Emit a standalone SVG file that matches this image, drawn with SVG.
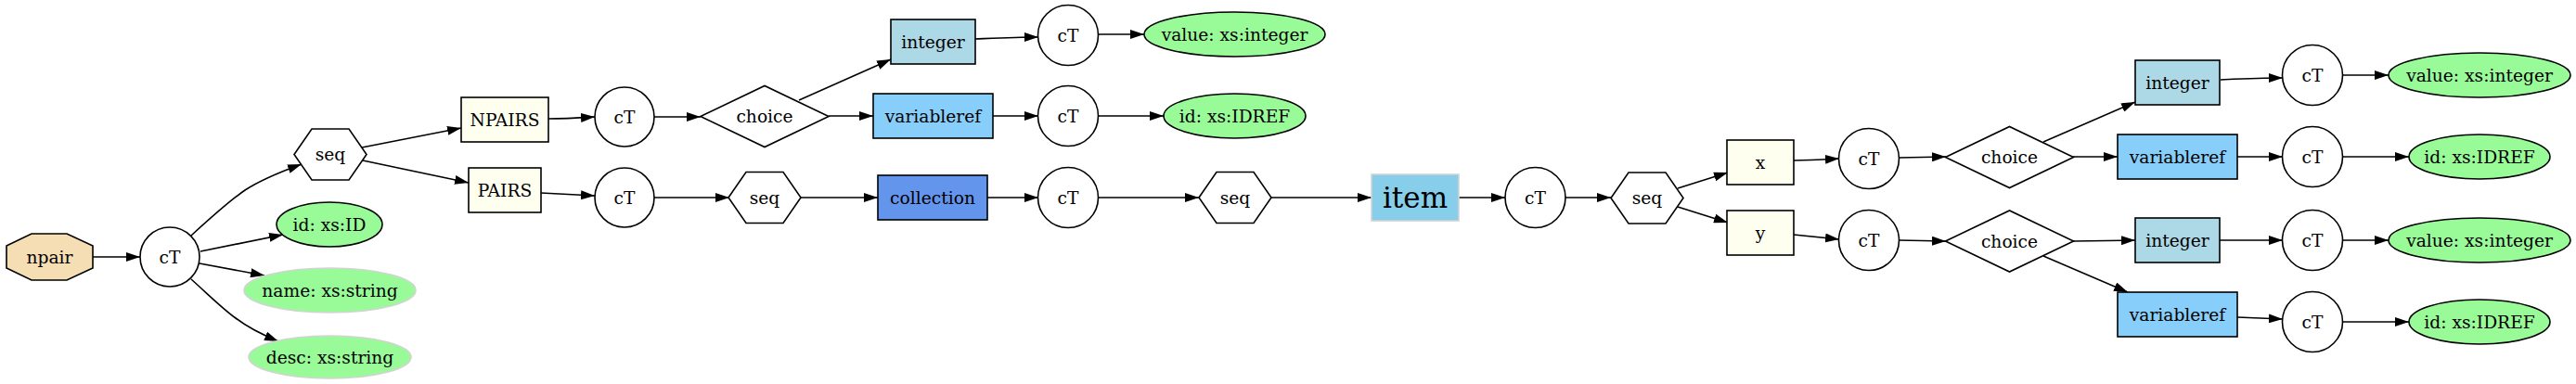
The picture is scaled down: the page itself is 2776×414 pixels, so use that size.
<svg xmlns="http://www.w3.org/2000/svg" width="2776" height="414" viewBox="0 0 2776 414">
<style>
text{font-family:"DejaVu Serif","Liberation Serif",serif;font-size:18.67px;text-anchor:middle;dominant-baseline:central;fill:#000}
.big{font-size:31px}
.ct{fill:#fff;stroke:#000;stroke-width:1.6}
.hex{fill:#fff;stroke:#000;stroke-width:1.6}
.dia{fill:#fff;stroke:#000;stroke-width:1.6}
.ivory{fill:#fffff0;stroke:#000;stroke-width:1.6}
.lb{fill:#add8e6;stroke:#000;stroke-width:1.6}
.lsb{fill:#87cefa;stroke:#000;stroke-width:1.6}
.cfb{fill:#6495ed;stroke:#000;stroke-width:1.6}
.att{fill:#98fb98;stroke:#000;stroke-width:1.6}
.attg{fill:#98fb98;stroke:#d3d3d3;stroke-width:1.6}
.e{fill:none;stroke:#000;stroke-width:1.6;marker-end:url(#arr)}
</style>
<defs>
<marker id="arr" viewBox="0 0 15 10" refX="15" refY="5" markerWidth="15" markerHeight="10" markerUnits="userSpaceOnUse" orient="auto">
<path d="M0,0 L15,5 L0,10 z" fill="#000"/>
</marker>
<polygon id="hexshape" points="-39,0 -20,-27.5 20,-27.5 39,0 20,27.5 -20,27.5"/>
<polygon id="diashape" points="-69,0 0,-33 69,0 0,33"/>
</defs>
<g id="edges">
<path class="e" d="M100,277 L151,277"/>
<path class="e" d="M206,254 C230,232 248,216 264,205 C281,194 303,185 325,177"/>
<path class="e" d="M216,271 L305,253"/>
<path class="e" d="M215,284 L285,297"/>
<path class="e" d="M206,301 C225,318 240,333 254,343 C267,353 283,361 300,368"/>
<path class="e" d="M390,159 L497,138"/>
<path class="e" d="M391,173 L505,197"/>
<path class="e" d="M591,128 C610,128 625,127 641,126"/>
<path class="e" d="M583,208 L641,211"/>
<path class="e" d="M705,126 L755,126"/>
<path class="e" d="M705,213 L786,213"/>
<path class="e" d="M861,108 L960,64"/>
<path class="e" d="M893,125 L941,125"/>
<path class="e" d="M862,213 L946,213"/>
<path class="e" d="M1051,42 C1075,41 1095,40 1119,40"/>
<path class="e" d="M1070,125 L1119,125"/>
<path class="e" d="M1064,213 L1119,213"/>
<path class="e" d="M1183,37 L1233,37"/>
<path class="e" d="M1183,125 L1254,125"/>
<path class="e" d="M1183,213 L1292,213"/>
<path class="e" d="M1369,213 L1478,213"/>
<path class="e" d="M1572,213 L1622,213"/>
<path class="e" d="M1687,213 L1736,213"/>
<path class="e" d="M1808,203 L1862,186"/>
<path class="e" d="M1808,223 L1862,240"/>
<path class="e" d="M1933,173 C1950,173 1965,172 1982,171"/>
<path class="e" d="M1933,253 L1982,258"/>
<path class="e" d="M2046,170 L2097,169"/>
<path class="e" d="M2046,259 L2097,260"/>
<path class="e" d="M2202,153 L2301,110"/>
<path class="e" d="M2234,169 L2282,169"/>
<path class="e" d="M2234,260 L2301,259"/>
<path class="e" d="M2202,276 L2293,315"/>
<path class="e" d="M2393,86 C2415,85 2435,84 2460,84"/>
<path class="e" d="M2411,169 L2460,169"/>
<path class="e" d="M2392,259 L2460,259"/>
<path class="e" d="M2411,342 L2460,344"/>
<path class="e" d="M2524,81 L2574,81"/>
<path class="e" d="M2524,169 L2596,169"/>
<path class="e" d="M2524,259 L2574,259"/>
<path class="e" d="M2524,347 L2596,347"/>
</g>
<g id="npair"><polygon points="34,252 72,252 100,265 100,289 72,302 34,302 7,289 7,265" fill="#f5deb3" stroke="#000" stroke-width="1.6"/><text x="53.5" y="277">npair</text></g>
<g id="ct1"><circle class="ct" cx="183" cy="277" r="32"/><text x="183" y="277">cT</text></g>
<g id="seq1"><use href="#hexshape" class="hex" x="356" y="166.5"/><text x="356" y="166.5">seq</text></g>
<g id="attr-id"><ellipse class="att" cx="355" cy="242" rx="57" ry="24"/><text x="355" y="242">id: xs:ID</text></g>
<g id="attr-name"><ellipse class="attg" cx="355.5" cy="313" rx="92.5" ry="24"/><text x="355.5" y="313">name: xs:string</text></g>
<g id="attr-desc"><ellipse class="attg" cx="355.5" cy="385" rx="87.5" ry="23"/><text x="355.5" y="385">desc: xs:string</text></g>
<g id="npairs"><rect class="ivory" x="497" y="105" width="94" height="48"/><text x="544" y="129">NPAIRS</text></g>
<g id="pairs"><rect class="ivory" x="505" y="181" width="78" height="48"/><text x="544" y="205">PAIRS</text></g>
<g id="ct2"><circle class="ct" cx="673" cy="126" r="32"/><text x="673" y="126">cT</text></g>
<g id="ct3"><circle class="ct" cx="673" cy="213" r="32"/><text x="673" y="213">cT</text></g>
<g id="choice1"><use href="#diashape" class="dia" x="824" y="125.5"/><text x="824" y="125.5">choice</text></g>
<g id="seq2"><use href="#hexshape" class="hex" x="824" y="213"/><text x="824" y="213">seq</text></g>
<g id="integer1"><rect class="lb" x="960" y="21" width="91" height="48"/><text x="1005.5" y="45">integer</text></g>
<g id="variableref1"><rect class="lsb" x="941" y="101" width="129" height="48"/><text x="1005.5" y="125">variableref</text></g>
<g id="collection"><rect class="cfb" x="946" y="189" width="118" height="48"/><text x="1005" y="213">collection</text></g>
<g id="ct4"><circle class="ct" cx="1151" cy="38" r="32.5"/><text x="1151" y="38">cT</text></g>
<g id="ct5"><circle class="ct" cx="1151" cy="125" r="32.5"/><text x="1151" y="125">cT</text></g>
<g id="ct6"><circle class="ct" cx="1151" cy="213" r="32.5"/><text x="1151" y="213">cT</text></g>
<g id="attr-value1"><ellipse class="att" cx="1330.5" cy="37" rx="97.5" ry="24"/><text x="1330.5" y="37">value: xs:integer</text></g>
<g id="attr-idref1"><ellipse class="att" cx="1330.5" cy="125" rx="76.5" ry="24"/><text x="1330.5" y="125">id: xs:IDREF</text></g>
<g id="seq3"><use href="#hexshape" class="hex" x="1331" y="213"/><text x="1331" y="213">seq</text></g>
<g id="item"><rect x="1478" y="188" width="94" height="50" fill="#87ceeb" stroke="#d3d3d3" stroke-width="1.6"/><text class="big" x="1525" y="213">item</text></g>
<g id="ct7"><circle class="ct" cx="1654.5" cy="213" r="32.5"/><text x="1654.5" y="213">cT</text></g>
<g id="seq4"><use href="#hexshape" class="hex" x="1775" y="213.5"/><text x="1775" y="213.5">seq</text></g>
<g id="x"><rect class="ivory" x="1861" y="151" width="72" height="48"/><text x="1897" y="175">x</text></g>
<g id="y"><rect class="ivory" x="1861" y="227" width="72" height="48"/><text x="1897" y="251">y</text></g>
<g id="ct8"><circle class="ct" cx="2014" cy="171" r="32.5"/><text x="2014" y="171">cT</text></g>
<g id="ct9"><circle class="ct" cx="2014" cy="259" r="32.5"/><text x="2014" y="259">cT</text></g>
<g id="choice2"><use href="#diashape" class="dia" x="2165.5" y="169.5"/><text x="2165.5" y="169.5">choice</text></g>
<g id="choice3"><use href="#diashape" class="dia" x="2165.5" y="260"/><text x="2165.5" y="260">choice</text></g>
<g id="integer2"><rect class="lb" x="2301" y="65" width="91" height="48"/><text x="2346.5" y="89">integer</text></g>
<g id="variableref2"><rect class="lsb" x="2282" y="145" width="129" height="48"/><text x="2346.5" y="169">variableref</text></g>
<g id="integer3"><rect class="lb" x="2301" y="235" width="91" height="48"/><text x="2346.5" y="259">integer</text></g>
<g id="variableref3"><rect class="lsb" x="2282" y="315" width="129" height="48"/><text x="2346.5" y="339">variableref</text></g>
<g id="ct10"><circle class="ct" cx="2492" cy="81" r="32.5"/><text x="2492" y="81">cT</text></g>
<g id="ct11"><circle class="ct" cx="2492" cy="169" r="32.5"/><text x="2492" y="169">cT</text></g>
<g id="ct12"><circle class="ct" cx="2492" cy="259" r="32.5"/><text x="2492" y="259">cT</text></g>
<g id="ct13"><circle class="ct" cx="2492" cy="347" r="32.5"/><text x="2492" y="347">cT</text></g>
<g id="attr-value2"><ellipse class="att" cx="2672" cy="81" rx="98" ry="24"/><text x="2672" y="81">value: xs:integer</text></g>
<g id="attr-idref2"><ellipse class="att" cx="2672" cy="169" rx="76" ry="24"/><text x="2672" y="169">id: xs:IDREF</text></g>
<g id="attr-value3"><ellipse class="att" cx="2672" cy="259" rx="98" ry="24"/><text x="2672" y="259">value: xs:integer</text></g>
<g id="attr-idref3"><ellipse class="att" cx="2672" cy="347" rx="76" ry="24"/><text x="2672" y="347">id: xs:IDREF</text></g>
</svg>
